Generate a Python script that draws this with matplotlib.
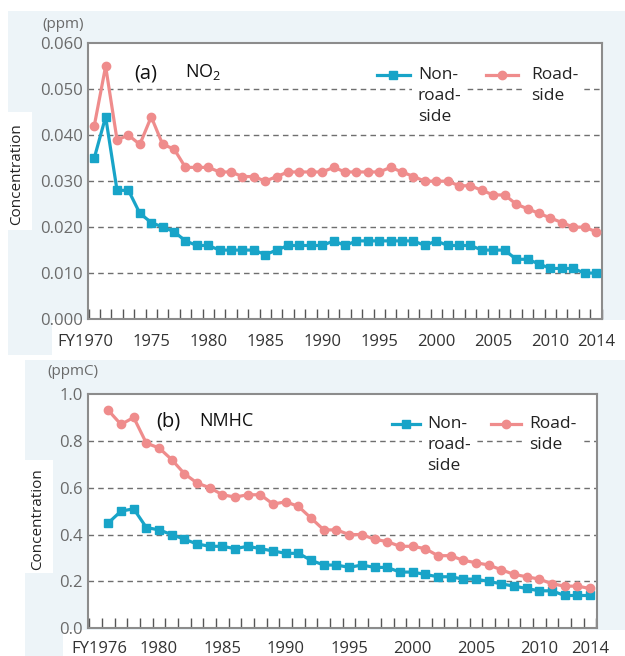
import matplotlib
matplotlib.use("Agg")
import matplotlib.pyplot as plt
from matplotlib.patches import Rectangle
from matplotlib.lines import Line2D
from matplotlib.transforms import ScaledTranslation
import numpy as np

plt.rcParams['font.family'] = ['Open Sans', 'DejaVu Sans']
plt.rcParams['mathtext.fontset'] = 'custom'
plt.rcParams['mathtext.rm'] = 'Open Sans'

# ---- data -------------------------------------------------------------
no2_years = list(range(1970, 2015))
no2_nonroad = [0.035, 0.044, 0.028, 0.028, 0.023, 0.021, 0.020, 0.019, 0.017, 0.016,
               0.016, 0.015, 0.015, 0.015, 0.015, 0.014, 0.015, 0.016, 0.016, 0.016,
               0.016, 0.017, 0.016, 0.017, 0.017, 0.017, 0.017, 0.017, 0.017, 0.016,
               0.017, 0.016, 0.016, 0.016, 0.015, 0.015, 0.015, 0.013, 0.013, 0.012,
               0.011, 0.011, 0.011, 0.010, 0.010]
no2_roadside = [0.042, 0.055, 0.039, 0.040, 0.038, 0.044, 0.038, 0.037, 0.033, 0.033,
                0.033, 0.032, 0.032, 0.031, 0.031, 0.030, 0.031, 0.032, 0.032, 0.032,
                0.032, 0.033, 0.032, 0.032, 0.032, 0.032, 0.033, 0.032, 0.031, 0.030,
                0.030, 0.030, 0.029, 0.029, 0.028, 0.027, 0.027, 0.025, 0.024, 0.023,
                0.022, 0.021, 0.020, 0.020, 0.019]
no2_xticks = [1970, 1975, 1980, 1985, 1990, 1995, 2000, 2005, 2010, 2014]
no2_xlabels = ["FY1970", "1975", "1980", "1985", "1990", "1995", "2000", "2005", "2010", "2014"]
no2_yticks = [0.0, 0.01, 0.02, 0.03, 0.04, 0.05, 0.06]
no2_ylabels = ["0.000", "0.010", "0.020", "0.030", "0.040", "0.050", "0.060"]

nmhc_years = list(range(1976, 2015))
nmhc_nonroad = [0.45, 0.50, 0.51, 0.43,
                0.42, 0.40, 0.38, 0.36, 0.35, 0.35, 0.34, 0.35, 0.34, 0.33,
                0.32, 0.32, 0.29, 0.27, 0.27, 0.26, 0.27, 0.26, 0.26, 0.24,
                0.24, 0.23, 0.22, 0.22, 0.21, 0.21, 0.20, 0.19, 0.18, 0.17,
                0.16, 0.16, 0.14, 0.14, 0.14]
nmhc_roadside = [0.93, 0.87, 0.90, 0.79,
                 0.77, 0.72, 0.66, 0.62, 0.60, 0.57, 0.56, 0.57, 0.57, 0.53,
                 0.54, 0.52, 0.47, 0.42, 0.42, 0.40, 0.40, 0.38, 0.37, 0.35,
                 0.35, 0.34, 0.31, 0.31, 0.29, 0.28, 0.27, 0.25, 0.23, 0.22,
                 0.21, 0.19, 0.18, 0.18, 0.17]
nmhc_xticks = [1976, 1980, 1985, 1990, 1995, 2000, 2005, 2010, 2014]
nmhc_xlabels = ["FY1976", "1980", "1985", "1990", "1995", "2000", "2005", "2010", "2014"]
nmhc_yticks = [0.0, 0.2, 0.4, 0.6, 0.8, 1.0]
nmhc_ylabels = ["0.0", "0.2", "0.4", "0.6", "0.8", "1.0"]

series_names = ["Non-\nroad-\nside", "Road-\nside"]

# ---- style ------------------------------------------------------------
BLUE = "#18a4c8"
PINK = "#ef8c8c"
PANEL_BG = "#edf4f8"
GRID = "#6f6f6f"
SPINE = "#8c8c8c"

W, H = 625, 656
fig = plt.figure(figsize=(W / 100, H / 100), dpi=100)


def fx(px):
    return px / W


def fy(py):
    return 1 - py / H


def bg_rect(x0, y0, x1, y1, color):
    fig.patches.append(Rectangle((fx(x0), fy(y1)), fx(x1) - fx(x0), fy(y0) - fy(y1),
                                 transform=fig.transFigure, facecolor=color,
                                 edgecolor="none", zorder=-10))


# panel backgrounds
bg_rect(8, 11, 625, 320, PANEL_BG)
bg_rect(8, 320, 52, 355, PANEL_BG)
bg_rect(8, 112, 32, 230, "white")
bg_rect(25, 360, 625, 630, PANEL_BG)
bg_rect(25, 630, 63, 656, PANEL_BG)
bg_rect(25, 460, 53, 573, "white")


def make_axes(box, xlim, ylim, years, nonroad, roadside, xticks, xlabels,
              yticks, ylabels, grid_vals, xpad, fy_shift):
    x0, y0, x1, y1 = box
    ax = fig.add_axes([fx(x0), fy(y1), fx(x1) - fx(x0), fy(y0) - fy(y1)])
    ax.set_facecolor("white")
    ax.set_xlim(*xlim)
    ax.set_ylim(*ylim)
    for g in grid_vals:
        ax.axhline(g, color=GRID, lw=1.0, ls=(0, (4, 3)), zorder=1)
    ax.plot(years, nonroad, color=BLUE, lw=2.3, marker="s", ms=6.3,
            mec=BLUE, mfc=BLUE, zorder=3, clip_on=False)
    ax.plot(years, roadside, color=PINK, lw=2.3, marker="o", ms=6.0,
            mec=PINK, mfc=PINK, zorder=3, clip_on=False)
    for s in ax.spines.values():
        s.set_color(SPINE)
        s.set_linewidth(1.5)
    ax.set_yticks(yticks)
    ax.set_yticklabels(ylabels)
    ax.tick_params(axis="y", length=0, pad=4, labelsize=12, labelcolor="#6a6a6a")
    ax.set_xticks(xticks)
    ax.set_xticklabels(xlabels)
    ax.tick_params(axis="x", which="major", length=0, pad=xpad, labelsize=12,
                   labelcolor="#333333")
    minors = np.arange(xlim[0] + 0.05, xlim[1], 1.0)
    minors = np.round(minors - 0.5) + 0.5
    ax.set_xticks(minors, minor=True)
    ax.tick_params(axis="x", which="minor", direction="in", length=7, width=1,
                   color="#555555")
    # shift the "FY" label so its year digits sit under the first point
    first = ax.get_xticklabels()[0]
    first.set_transform(first.get_transform() +
                        ScaledTranslation(fy_shift / 100, 0, fig.dpi_scale_trans))
    return ax


ax1 = make_axes((88.3, 43.3, 602.3, 319.0), (1969.48, 2014.56), (0, 0.06),
                no2_years, no2_nonroad, no2_roadside, no2_xticks, no2_xlabels,
                no2_yticks, no2_ylabels, [0.01, 0.02, 0.03, 0.04, 0.05], 11, -9)
ax2 = make_axes((88.3, 394.0, 596.7, 628.3), (1974.42, 2014.53), (0, 1.0),
                nmhc_years, nmhc_nonroad, nmhc_roadside, nmhc_xticks, nmhc_xlabels,
                nmhc_yticks, nmhc_ylabels, [0.2, 0.4, 0.6, 0.8], 9.5, -9)

# units and axis titles
fig.text(fx(63), fy(24), "(ppm)", ha="center", va="center", fontsize=11, color="#6a6a6a")
fig.text(fx(73), fy(372), "(ppmC)", ha="center", va="center", fontsize=11, color="#6a6a6a")
fig.text(fx(17), fy(174), "Concentration", rotation=90, ha="center", va="center",
         fontsize=11, color="#222222")
fig.text(fx(37.5), fy(519), "Concentration", rotation=90, ha="center", va="center",
         fontsize=11, color="#222222")

# panel titles
fig.text(fx(134), fy(73), "(a)", ha="left", va="center", fontsize=14.5, color="#111111")
fig.text(fx(185), fy(72), r"NO$_{\mathrm{2}}$", ha="left", va="center", fontsize=13,
         color="#111111")
fig.text(fx(156), fy(421), "(b)", ha="left", va="center", fontsize=14.5, color="#111111")
fig.text(fx(199), fy(421), "NMHC", ha="left", va="center", fontsize=13, color="#111111")


def legend_entry(x0, x1, y, color, marker, ms, tx, label):
    fig.lines.append(Line2D([fx(x0), fx(x1)], [fy(y), fy(y)], transform=fig.transFigure,
                            color=color, lw=2.3, zorder=5))
    fig.lines.append(Line2D([fx((x0 + x1) / 2)], [fy(y)], transform=fig.transFigure,
                            color=color, marker=marker, ms=ms, ls="none", zorder=5))
    fig.text(fx(tx), fy(y - 8), label, ha="left", va="top", fontsize=12.5,
             color="#222222", linespacing=1.42, zorder=4,
             bbox=dict(facecolor="white", edgecolor="none", pad=4))


legend_entry(376.7, 410, 75, BLUE, "s", 6.3, 418, series_names[0])
legend_entry(486, 518, 75, PINK, "o", 6.0, 531, series_names[1])
legend_entry(391.7, 420, 424, BLUE, "s", 6.3, 427.3, series_names[0])
legend_entry(491, 521, 424, PINK, "o", 6.0, 529.3, series_names[1])

fig.savefig("out.png", dpi=100)
